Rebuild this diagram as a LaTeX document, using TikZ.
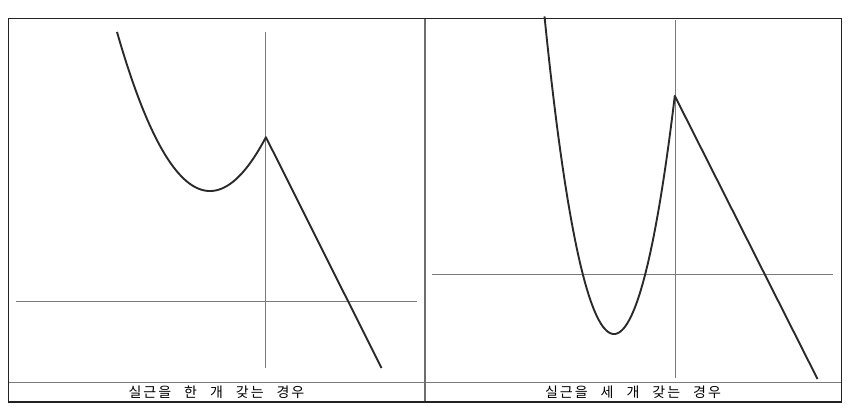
\documentclass[tikz,border=0pt]{standalone}
\usepackage{fontspec}
\newfontfamily\kr[LetterSpace=14]{Noto Sans CJK KR}
\definecolor{curvecol}{HTML}{2A2A2A}
\definecolor{axiscol}{HTML}{7A7A7A}
\definecolor{framecol}{HTML}{222222}
\newcommand{\wgap}{\hspace{13pt}}
\begin{document}
\begin{tikzpicture}[x=1pt,y=-1pt,
  curve/.style={draw=curvecol,line width=1.9pt,line join=round},
  axis/.style={draw=axiscol,line width=1pt},
  frame/.style={draw=framecol,line width=1.4pt},
  divider/.style={draw=axiscol!90!black,line width=1.5pt},
  caption/.style={font=\kr\fontsize{14}{14}\selectfont,inner sep=0pt,text=black}]
\useasboundingbox (0,0) rectangle (854,418);
% panel dividers
\coordinate (dtop) at (425,18.5);
\coordinate (dbot) at (425,402);
\coordinate (cl) at (8.5,382);
\coordinate (cr) at (841.5,382);
\draw[axis] (cl) -- (cr);
\draw[divider] (dtop) -- (dbot);
\draw[frame] (8.5,18.5) rectangle (841.5,402);
% left panel axes
\coordinate (lvt) at (265.5,32);
\coordinate (lvb) at (265.5,368);
\coordinate (lhl) at (16,301);
\coordinate (lhr) at (417,301);
\draw[axis] (lvt) -- (lvb);
\draw[axis] (lhl) -- (lhr);
% left curve
\coordinate (lcusp) at (266,137);
\coordinate (lend) at (381.5,368);
\draw[curve] plot[domain=-0.93:0.56,samples=120] ({210+100*\x},{191-176.6*\x*\x+7.84*\x*\x*\x}) -- (lend);
% right panel axes
\coordinate (rvt) at (675.5,20);
\coordinate (rvb) at (675.5,378);
\coordinate (rhl) at (432,274.5);
\coordinate (rhr) at (833,274.5);
\draw[axis] (rvt) -- (rvb);
\draw[axis] (rhl) -- (rhr);
% right curve
\coordinate (rend) at (817.5,379);
\draw[curve] plot[domain=-0.695:0.61,samples=150] ({614+100*\x},{334-603*\x*\x-113*\x*\x*\x*\x}) -- (rend);
% captions
\node[caption] (capl) at (216.5,392.5) {실근을\wgap 한\wgap 개\wgap 갖는\wgap 경우};
\node[caption] (capr) at (633,392.5) {실근을\wgap 세\wgap 개\wgap 갖는\wgap 경우};
\end{tikzpicture}
\end{document}
